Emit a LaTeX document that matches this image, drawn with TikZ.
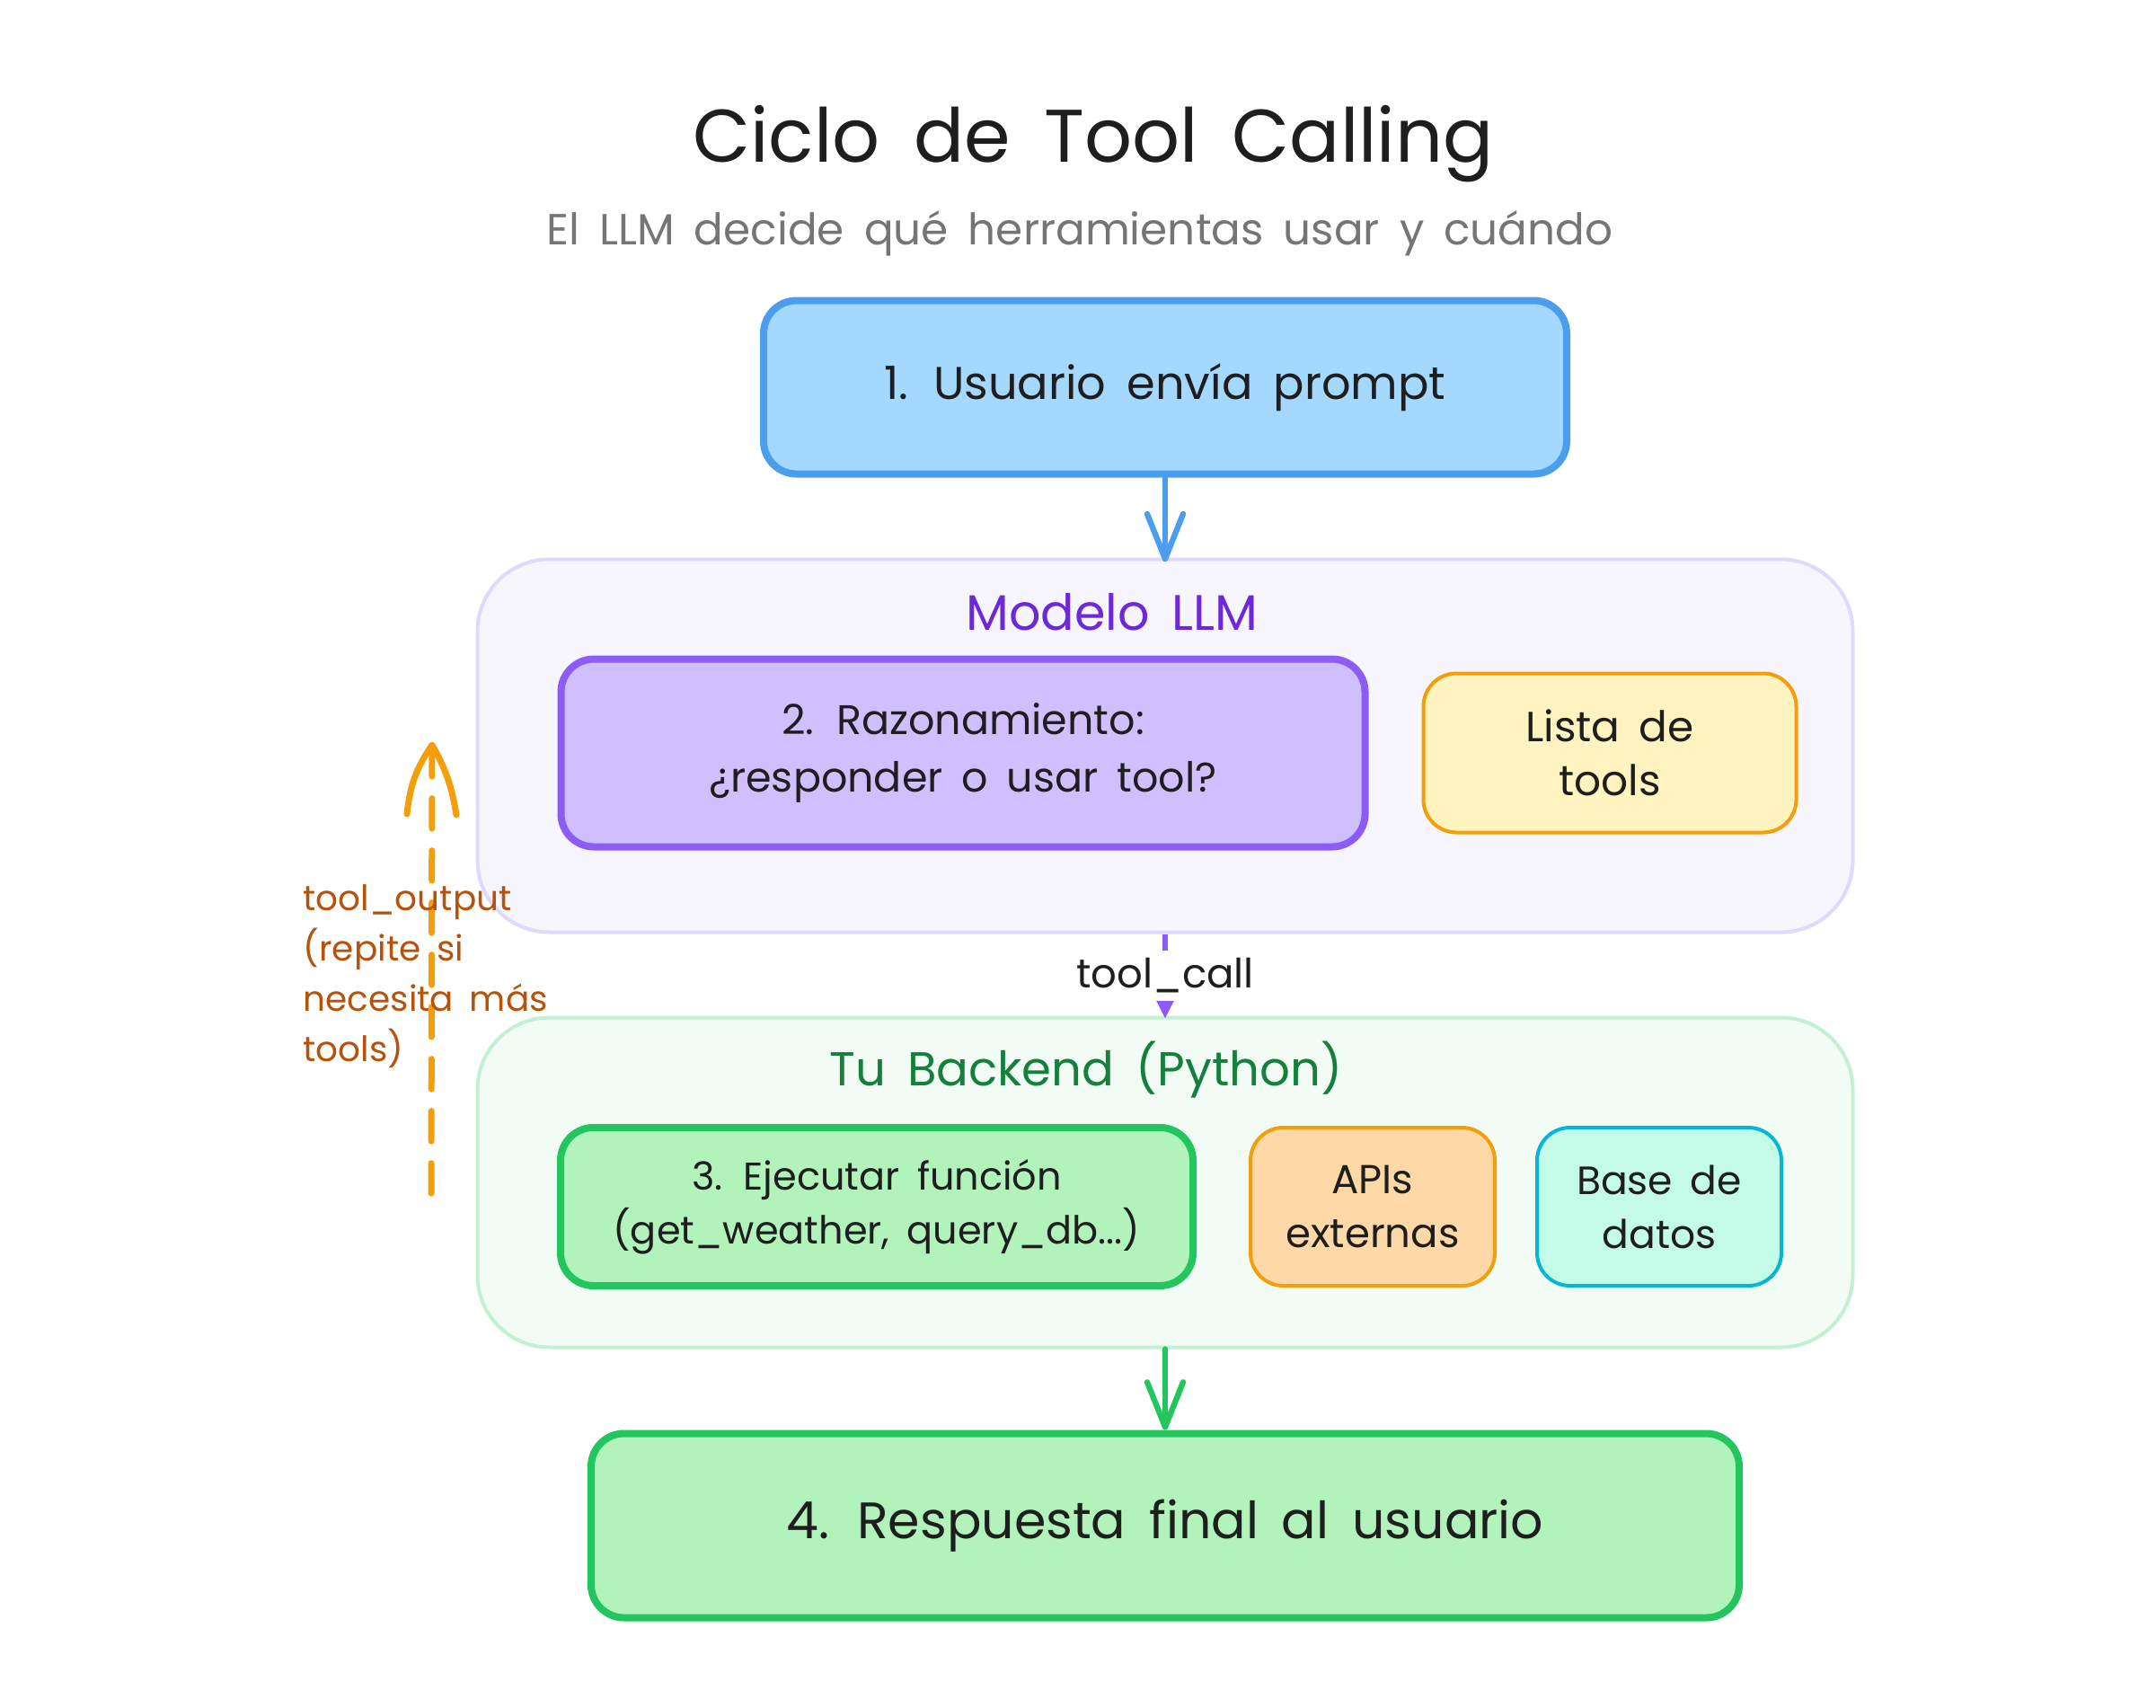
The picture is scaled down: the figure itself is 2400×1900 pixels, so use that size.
\documentclass[tikz,border=0pt]{standalone}
\usepackage{fontspec}
\setmainfont[WordSpace=1.7]{Poppins}
\usetikzlibrary{arrows.meta}

\definecolor{inkblack}{HTML}{1E1E1E}
\definecolor{subgray}{HTML}{757575}
\definecolor{bluefill}{HTML}{A5D8FF}
\definecolor{bluedraw}{HTML}{4A9EED}
\definecolor{llmfill}{HTML}{F7F5FE}
\definecolor{llmdraw}{HTML}{E0D8FD}
\definecolor{llmtext}{HTML}{6D28D9}
\definecolor{violetfill}{HTML}{D0BFFF}
\definecolor{violetdraw}{HTML}{8B5CF6}
\definecolor{yellowfill}{HTML}{FFF3BF}
\definecolor{orangedraw}{HTML}{F59E0B}
\definecolor{orangefill}{HTML}{FFD8A8}
\definecolor{orangetext}{HTML}{B45309}
\definecolor{backfill}{HTML}{F2FCF5}
\definecolor{backdraw}{HTML}{C3F0D3}
\definecolor{backtext}{HTML}{15803D}
\definecolor{greenfill}{HTML}{B2F2BB}
\definecolor{greendraw}{HTML}{22C55E}
\definecolor{cyanfill}{HTML}{C3FAE8}
\definecolor{cyandraw}{HTML}{06B6D4}

\newcommand{\txtpx}[2]{\fontsize{\dimexpr#1pt*3/10\relax}{\dimexpr#2pt*3/10\relax}\selectfont}

\tikzset{
  wh/.style 2 args={minimum width=#1*0.3pt,minimum height=#2*0.3pt,inner sep=0pt},
  areabox/.style={draw=#1,line width=1.2pt,rounded corners=24pt},
  thickbox/.style={draw=#1,line width=2.4pt,rounded corners=11pt,text=inkblack,align=center},
  thinbox/.style={draw=#1,line width=1.2pt,rounded corners=11pt,text=inkblack,align=center},
  flowarrow/.style={draw=#1,line width=1.9pt,line cap=round,
    -{Straight Barb[length=15pt,width=12pt,line cap=round,round]}},
}

\begin{document}
\begin{tikzpicture}[x=0.3pt,y=0.3pt,yscale=-1,xscale=1]
\useasboundingbox (0,0) rectangle (2400,1900);

%Shape: Area Box
\draw (1297,830) node (llm) [areabox=llmdraw,fill=llmfill,wh={1531}{415}] {};
%Shape: Area Box
\draw (1297,1316) node (backend) [areabox=backdraw,fill=backfill,wh={1531}{367}] {};

%Shape: Round Rect
\draw (1297,431) node (prompt) [thickbox=bluedraw,fill=bluefill,wh={894}{193},font=\txtpx{51}{64}] {1. Usuario envía prompt};
%Shape: Round Rect
\draw (1072,838) node (razona) [thickbox=violetdraw,fill=violetfill,wh={895}{209},font=\txtpx{46}{64}] {2. Razonamiento:\\¿responder o usar tool?};
%Shape: Round Rect
\draw (1792,838) node (lista) [thinbox=orangedraw,fill=yellowfill,wh={415}{177},font=\txtpx{47}{60}] {Lista de\\tools};
%Shape: Round Rect
\draw (976,1343) node (ejecuta) [thickbox=greendraw,fill=greenfill,wh={704}{176},font=\txtpx{43}{60}] {3. Ejecutar función\\(get\_weather, query\_db...)};
%Shape: Round Rect
\draw (1528,1343) node (apis) [thinbox=orangedraw,fill=orangefill,wh={272}{176},font=\txtpx{45}{60}] {APIs\\externas};
%Shape: Round Rect
\draw (1847,1343) node (datos) [thinbox=cyandraw,fill=cyanfill,wh={272}{176},font=\txtpx{44}{60}] {Base de\\datos};
%Shape: Round Rect
\draw (1297,1698) node (final) [thickbox=greendraw,fill=greenfill,wh={1278}{205},font=\txtpx{57}{64}] {4. Respuesta final al usuario};

%Straight Lines
\draw [flowarrow=bluedraw,shorten >=-1.4pt] (prompt.south) -- (llm.north);
%Straight Lines
\draw [flowarrow=greendraw] (backend.south) -- (final.north);
%Straight Lines
\draw [draw=violetdraw,line width=1.9pt,dash pattern=on 10pt off 8pt,shorten >=-1pt,
  -{Triangle[length=6.3pt,width=5.7pt,fill=violetdraw]}] (llm.south) -- (backend.north);

%Straight Lines
\coordinate (loopstart) at (480,1328);
\coordinate (looptip) at (481,829);
\coordinate (barbleft) at (453,906);
\coordinate (barbright) at (508,907);
\draw [draw=orangedraw,line width=2.1pt,line cap=round,dash pattern=on 10pt off 7.4pt] (loopstart) -- (looptip);
\draw [draw=orangedraw,line width=2.1pt,line cap=round,line join=round] (barbleft) to[bend right=14] (looptip) to[bend right=10] (barbright);

% Text Node
\draw (1217,160) node (title) [text=inkblack,font=\txtpx{83}{90}] {Ciclo de Tool Calling};
% Text Node
\draw (1202,260) node (subtitle) [text=subgray,font=\txtpx{48.5}{56}] {El LLM decide qué herramientas usar y cuándo};
% Text Node
\draw (1238,681) node (llmtitle) [text=llmtext,font=\txtpx{55.5}{60}] {Modelo LLM};
% Text Node
\draw (1209,1191) node (backtitle) [text=backtext,font=\txtpx{53}{60}] {Tu Backend (Python)};
% Text Node
\draw (1297,1086) node (toolcall) [fill=white,text=inkblack,wh={214}{56},font=\txtpx{45}{50}] {tool\_call};
% Text Node
\draw (337,984) node (tooloutput) [anchor=north west,inner sep=0pt,align=left,text=orangetext,font=\txtpx{39}{56}] {tool\_output\\(repite si\\necesita más\\tools)};

\end{tikzpicture}
\end{document}
